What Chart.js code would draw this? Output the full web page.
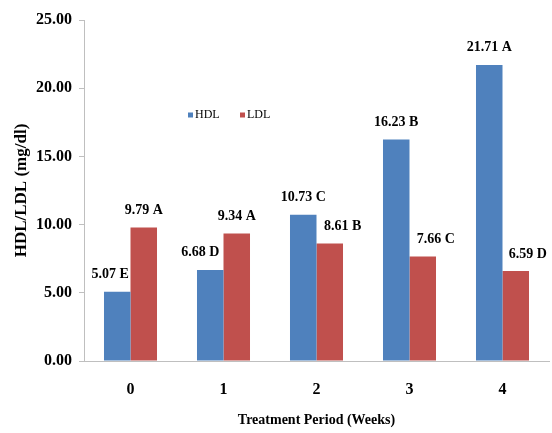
<!DOCTYPE html>
<html>
<head>
<meta charset="utf-8">
<script src="https://cdn.jsdelivr.net/npm/chart.js@4/dist/chart.umd.min.js"></script>
<style>
  html, body { margin: 0; padding: 0; background: #fff; }
  #wrap { width: 552px; height: 433px; }
</style>
</head>
<body>
<div id="wrap"><canvas id="chart" width="552" height="433"></canvas></div>
<script>
// ── Data ─────────────────────────────────────────────────────────────────────
const WEEKS      = ["0", "1", "2", "3", "4"];
const HDL        = [5.07, 6.68, 10.73, 16.23, 21.71];
const LDL        = [9.79, 9.34, 8.61, 7.66, 6.59];
const HDL_GROUPS = ["E", "D", "C", "B", "A"];
const LDL_GROUPS = ["A", "A", "B", "C", "D"];
const Y_TICKS    = [0, 5, 10, 15, 20, 25];

// ── Style ────────────────────────────────────────────────────────────────────
const SERIF = '"Liberation Serif", "Times New Roman", serif';
const AXIS_GRAY = "#BFBFBF";

// small label nudges, as placed in the original figure
const LABEL_NUDGE = [[-7, -10, 0, 0, 0], [0, 0, 13, 13, 12]];

// ── Plugins ──────────────────────────────────────────────────────────────────
const valueLabels = {
  id: "valueLabels",
  afterDatasetsDraw(chart) {
    const ctx = chart.ctx;
    const groups = [HDL_GROUPS, LDL_GROUPS];
    ctx.save();
    ctx.font = `bold 14px ${SERIF}`;
    ctx.fillStyle = "#000";
    ctx.textAlign = "center";
    ctx.textBaseline = "middle";
    chart.data.datasets.forEach((ds, di) => {
      chart.getDatasetMeta(di).data.forEach((bar, i) => {
        const text = `${ds.data[i].toFixed(2)} ${groups[di][i]}`;
        ctx.fillText(text, bar.x + LABEL_NUDGE[di][i], bar.y - 17);
      });
    });
    ctx.restore();
  },
};

const innerLegend = {
  id: "innerLegend",
  afterDraw(chart) {
    const { ctx, chartArea } = chart;
    let x = chartArea.left + 104;
    const y = chartArea.top + 95;
    ctx.save();
    ctx.font = `12px ${SERIF}`;
    ctx.textBaseline = "middle";
    ctx.textAlign = "left";
    chart.data.datasets.forEach(ds => {
      ctx.fillStyle = ds.backgroundColor;
      ctx.fillRect(x, y - 2.5, 5, 5);
      ctx.fillStyle = "#000";
      ctx.fillText(ds.label, x + 7, y);
      x += 52;
    });
    ctx.restore();
  },
};

// ── Chart ────────────────────────────────────────────────────────────────────
new Chart(document.getElementById("chart"), {
  type: "bar",
  data: {
    labels: WEEKS,
    datasets: [
      { label: "HDL", data: HDL, backgroundColor: "#4F81BD" },
      { label: "LDL", data: LDL, backgroundColor: "#C0504D" },
    ],
  },
  options: {
    responsive: false,
    animation: false,
    layout: { padding: { top: 20, right: 3, bottom: 0, left: 0 } },
    datasets: { bar: { categoryPercentage: 0.57, barPercentage: 1 } },
    plugins: { legend: { display: false }, tooltip: { enabled: false } },
    scales: {
      x: {
        grid: { display: false },
        border: { display: true, color: AXIS_GRAY, width: 1 },
        ticks: { color: "#000", padding: 11, font: { family: SERIF, size: 16, weight: "bold" } },
        title: {
          display: true,
          text: "Treatment Period (Weeks)",
          color: "#000",
          padding: { top: 0, bottom: 4 },
          font: { family: SERIF, size: 14, weight: "bold" },
        },
        afterFit(scale) { scale.height = 72; },
      },
      y: {
        min: Y_TICKS[0],
        max: Y_TICKS[Y_TICKS.length - 1],
        afterBuildTicks(scale) { scale.ticks = Y_TICKS.map(v => ({ value: v })); },
        grid: { drawOnChartArea: false, drawTicks: true, tickLength: 5, color: AXIS_GRAY },
        border: { display: true, color: AXIS_GRAY, width: 1 },
        ticks: {
          color: "#000",
          padding: 7,
          font: { family: SERIF, size: 16, weight: "bold" },
          callback: v => Number(v).toFixed(2),
        },
        title: {
          display: true,
          text: "HDL/LDL (mg/dl)",
          color: "#000",
          padding: { top: 11, bottom: 0 },
          font: { family: SERIF, size: 17, weight: "bold" },
        },
        afterFit(scale) { scale.width = 84; },
      },
    },
  },
  plugins: [valueLabels, innerLegend],
});
</script>
</body>
</html>
